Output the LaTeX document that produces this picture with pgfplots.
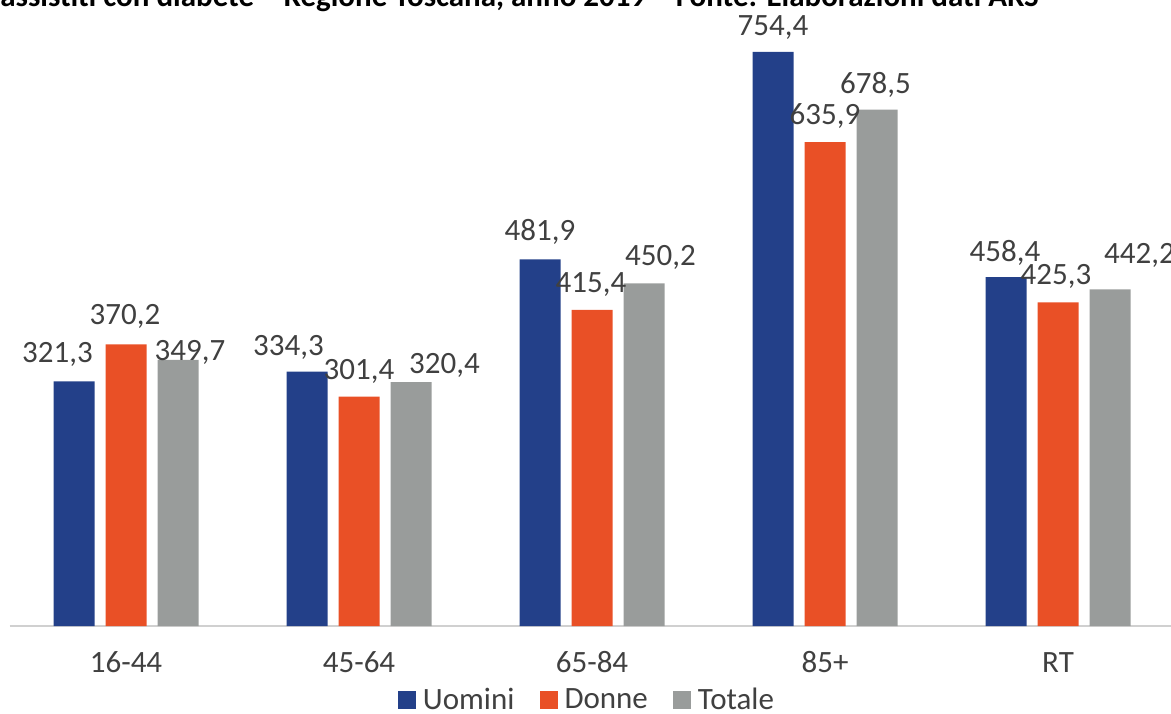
\documentclass[border=0pt]{standalone}
\usepackage{fontspec}
\setmainfont{Carlito}
\usepackage{pgfplots}
\usepackage{pgfplotstable}
\pgfplotsset{compat=1.18}
\definecolor{ublue}{HTML}{234089}
\definecolor{dorange}{HTML}{E95026}
\definecolor{tgray}{HTML}{999C9B}
\definecolor{txt}{HTML}{404040}
\definecolor{axisgray}{HTML}{D0D0D0}
\newcommand\f{\fontsize{15.5pt}{18pt}\selectfont}
% x: category index; value; dx (px) and up (px) place the value label
\pgfplotstableread{
x U dxU upU D dxD upD T dxT upT
0 321.3 -16.5 28.5 370.2 -1 30 349.7 12 9
1 334.3 -18.5 25.6 301.4 0 27 320.4 33.5 18
2 481.9 0 28.8 415.4 -1 27.4 450.2 16.5 27.4
3 754.4 0 26.4 635.9 0 27.6 678.5 -1.5 26.2
4 458.4 -1 25.6 425.3 -2 27.3 442.2 29.5 36
}\data
\begin{document}
\begin{tikzpicture}
\begin{axis}[
  at={(4.75pt,43.5pt)}, anchor=south west,
  scale only axis, width=582.5pt, height=304.4pt,
  xmin=-0.5, xmax=4.5, ymin=0, ymax=800,
  ybar=5.5pt, bar width=20.5pt,
  axis y line=none, axis x line*=bottom,
  x axis line style={draw=axisgray, line width=0.65pt, -},
  xtick={0,1,2,3,4},
  xticklabels={16-44,45-64,65-84,85+,RT},
  major tick length=0pt,
  xticklabel style={font=\f, text=txt, anchor=center, yshift=-18.25pt},
  clip=false,
  nodes near coords,
  /pgf/number format/.cd, use comma, fixed, fixed zerofill, precision=1, assume math mode=true,
  /pgfplots/.cd,
  every node near coord/.append style={font=\f, text=txt, anchor=base, inner sep=0pt,
     xshift={\dx*0.5pt}, yshift={\up*0.5pt-4.9pt}},
  legend style={at={(0.5,0)}, anchor=center, yshift=-37pt, xshift=-1.25pt,
     draw=none, fill=none, font=\f, text=txt, legend columns=-1, inner sep=0pt,
     nodes={inner ysep=0pt, inner xsep=3.5pt},
     /tikz/every even column/.append style={column sep=9pt}},
  legend image code/.code={\fill[#1] (0pt,-4.4pt) rectangle (9pt,4.4pt);},
]
\addplot[fill=ublue, draw=none, visualization depends on={\thisrow{dxU} \as \dx}, visualization depends on={\thisrow{upU} \as \up}] table[x=x, y=U] {\data};
\addplot[fill=dorange, draw=none, visualization depends on={\thisrow{dxD} \as \dx}, visualization depends on={\thisrow{upD} \as \up}] table[x=x, y=D] {\data};
\addplot[fill=tgray, draw=none, visualization depends on={\thisrow{dxT} \as \dx}, visualization depends on={\thisrow{upT} \as \up}] table[x=x, y=T] {\data};
\legend{Uomini, Donne, Totale}
\end{axis}
\node[anchor=base west, font=\f\bfseries, text=black, inner sep=0pt] at (0pt,353pt)
  {assistiti con diabete – Regione Toscana, anno 2019 – Fonte: Elaborazioni dati ARS};
\pgfresetboundingbox
\useasboundingbox (0pt,0pt) rectangle (585.5pt,356.5pt);
\end{tikzpicture}
\end{document}
